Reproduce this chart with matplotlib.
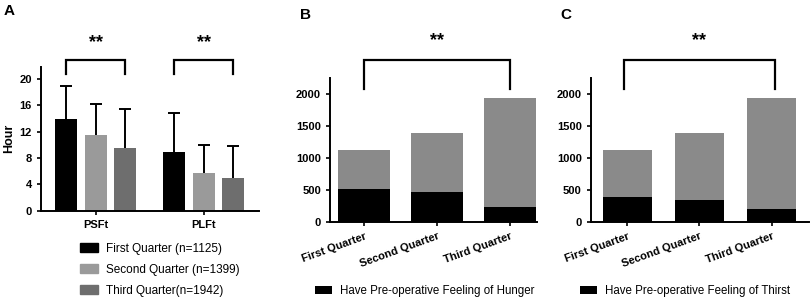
import matplotlib
matplotlib.use("Agg")
import matplotlib.pyplot as plt
from matplotlib.patches import Patch

plt.rcParams['font.family'] = ['Liberation Sans', 'DejaVu Sans']

# panel A data
groups = ['PSFt', 'PLFt']
quarter_labels = ['First Quarter (n=1125)', 'Second Quarter (n=1399)', 'Third Quarter(n=1942)']
psft_mean = [13.9, 11.5, 9.6]
psft_sd = [5.0, 4.7, 5.8]
plft_mean = [9.0, 5.7, 5.0]
plft_sd = [5.8, 4.3, 4.8]

# panel B / C data
quarters = ['First Quarter', 'Second Quarter', 'Third Quarter']
totals = [1125, 1399, 1942]
hunger = [526, 469, 234]
thirst = [401, 354, 203]

colA = ['#000000', '#9a9a9a', '#6e6e6e']
gray = '#8a8a8a'

fig = plt.figure(figsize=(8.1, 3.01), dpi=100)


def style(ax):
    for s in ['top', 'right']:
        ax.spines[s].set_visible(False)
    for s in ['left', 'bottom']:
        ax.spines[s].set_linewidth(1.4)
    ax.tick_params(width=1.2, length=3, labelsize=8)
    for t in ax.get_yticklabels():
        t.set_fontweight('bold')


def bracket(ax, x0, x1, y_top, y_bot, y_star):
    ax.plot([x0, x0, x1, x1], [y_bot, y_top, y_top, y_bot], color='black',
            lw=1.6, clip_on=False, solid_joinstyle='miter')
    ax.text((x0 + x1) / 2, y_star, '**', ha='center', va='center',
            fontsize=13, fontweight='bold', clip_on=False)


# ---- A ----
axA = fig.add_axes([0.0502, 0.300, 0.2698, 0.4784])
posA = [[0, 1, 2], [3.65, 4.65, 5.65]]
for i in range(3):
    for g, (m, sd) in enumerate([(psft_mean, psft_sd), (plft_mean, plft_sd)]):
        axA.bar(posA[g][i], m[i], width=0.74, color=colA[i])
        eb = axA.errorbar(posA[g][i], m[i], yerr=[[0], [sd[i]]], color='black',
                          capsize=4, elinewidth=1.4, capthick=1.4, fmt='none')
        eb[1][0].set_visible(False)
axA.set_xlim(-0.855, 6.52)
axA.set_ylim(0, 21.9)
axA.set_yticks([0, 4, 8, 12, 16, 20])
axA.set_xticks([1, 4.65])
axA.set_xticklabels(groups, fontsize=8.5, fontweight='bold')
axA.set_ylabel('Hour', fontsize=9, fontweight='bold', labelpad=3)
style(axA)
bracket(axA, 0, 2, 22.9, 20.8, 25.6)
bracket(axA, 3.65, 5.65, 22.9, 20.8, 25.6)
axA.legend(handles=[Patch(color=c, label=l) for c, l in zip(colA, quarter_labels)],
           loc='upper left', bbox_to_anchor=(80 / 810, 1 - 243 / 301),
           bbox_transform=fig.transFigure, frameon=False, fontsize=8.5,
           handlelength=1.5, handleheight=0.8, handletextpad=0.7,
           labelspacing=0.75, borderpad=0, borderaxespad=0)


def stacked(rect, black, legend_label, xlim, width):
    ax = fig.add_axes(rect)
    x = list(range(3))
    ax.bar(x, totals, width=width, color=gray)
    ax.bar(x, black, width=width, color='black', label=legend_label)
    ax.set_xlim(*xlim)
    ax.set_ylim(0, 2250)
    ax.set_yticks([0, 500, 1000, 1500, 2000])
    ax.set_xticks(x)
    ax.set_xticklabels(quarters, rotation=20, ha='right', rotation_mode='anchor',
                       fontsize=8.5, fontweight='bold')
    style(ax)
    return ax


legend_kw = dict(bbox_transform=fig.transFigure, frameon=False, fontsize=8.3,
                 handlelength=1.5, handleheight=0.8, handletextpad=0.7,
                 borderpad=0, borderaxespad=0, loc='upper left')

axB = stacked([330 / 810, 0.2615, 207 / 810, 0.4785], hunger,
              'Have Pre-operative Feeling of Hunger', (-0.466, 2.37), 0.71)
bracket(axB, 0, 2, 2535, 2080, 2835)
axB.legend(bbox_to_anchor=(315 / 810, 1 - 285 / 301), **legend_kw)

axC = stacked([590.7 / 810, 0.2615, 218.3 / 810, 0.4785], thirst,
              'Have Pre-operative Feeling of Thirst', (-0.51, 2.52), 0.68)
bracket(axC, -0.05, 2.05, 2535, 2080, 2835)
axC.legend(bbox_to_anchor=(580 / 810, 1 - 285 / 301), **legend_kw)

fig.text(4 / 810, 1 - 11 / 301, 'A', fontsize=11, fontweight='bold', va='center')
fig.text(300 / 810, 1 - 15 / 301, 'B', fontsize=11, fontweight='bold', va='center')
fig.text(560 / 810, 1 - 15 / 301, 'C', fontsize=11, fontweight='bold', va='center')

fig.savefig('out.png', dpi=100)
